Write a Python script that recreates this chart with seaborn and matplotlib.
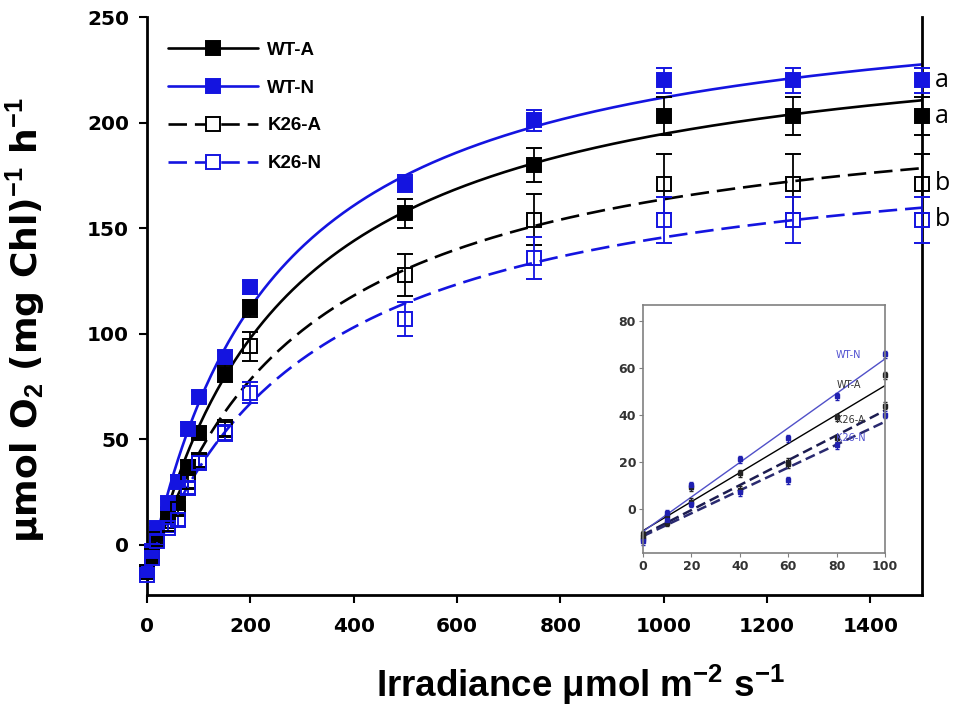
import numpy as np
import pandas as pd
import matplotlib
matplotlib.use("Agg")
import matplotlib.pyplot as plt
import seaborn as sns

sns.set_style("white")
plt.rcParams["mathtext.fontset"] = "custom"
plt.rcParams["mathtext.rm"] = "Liberation Sans:bold"
plt.rcParams["mathtext.it"] = "Liberation Sans:bold"
plt.rcParams["mathtext.bf"] = "Liberation Sans:bold"
plt.rcParams["mathtext.default"] = "rm"
plt.rcParams["text.color"] = "black"

# irradiance levels (umol m-2 s-1)
irradiance = [0, 10, 20, 40, 60, 80, 100, 150, 200, 500, 750, 1000, 1250, 1500]

wt_a = [-13, -5, 5, 14, 20, 37, 53, 81, 112, 157, 180, 203, 203, 203]
wt_n = [-13, -3, 8, 20, 30, 55, 70, 89, 122, 171, 201, 220, 220, 220]
k26_a = [-13, -5, 3, 10, 17, 30, 40, 55, 94, 128, 154, 171, 171, 171]
k26_n = [-14, -6, 2, 8, 12, 27, 39, 53, 72, 107, 136, 154, 154, 154]

wt_a_err = [2, 2, 2, 2, 3, 3, 3, 4, 4, 7, 8, 9, 9, 9]
wt_n_err = [2, 2, 2, 2, 3, 3, 3, 3, 3, 4, 5, 6, 6, 6]
k26_a_err = [2, 2, 2, 2, 3, 3, 3, 4, 7, 10, 12, 14, 14, 14]
k26_n_err = [2, 2, 2, 2, 3, 3, 3, 4, 5, 8, 10, 11, 11, 11]

labels = ["WT-A", "WT-N", "K26-A", "K26-N"]
letters = ["a", "a", "b", "b"]

# inset: low light range
inset_irr = [0, 10, 20, 40, 60, 80, 100]
inset_wt_a = [-11, -3, 9, 15, 20, 39, 57]
inset_wt_n = [-13, -2, 10, 21, 30, 48, 66]
inset_k26_a = [-12, -6, 3, 8, 19, 30, 44]
inset_k26_n = [-14, -5, 2, 7, 12, 27, 40]

blue = "#1414e0"


def fit_hyperbola(x, y):
    # P = Pmax * I / (K + I) + R, grid over K, linear lstsq for Pmax, R
    x = np.asarray(x, float)
    y = np.asarray(y, float)
    best = None
    for k in np.arange(20, 1500, 1.0):
        A = np.column_stack([x / (k + x), np.ones_like(x)])
        coef, res, _, _ = np.linalg.lstsq(A, y, rcond=None)
        r = np.sum((A @ coef - y) ** 2)
        if best is None or r < best[0]:
            best = (r, k, coef)
    return best[1], best[2]


fig = plt.figure(figsize=(9.56, 7.06), dpi=100)
ax = fig.add_axes([0.1538, 0.1572, 0.8106, 0.8187])

series = [(wt_a, wt_a_err, "black", "-", "black"),
          (wt_n, wt_n_err, blue, "-", blue),
          (k26_a, k26_a_err, "black", (0, (7, 3)), "none"),
          (k26_n, k26_n_err, blue, (0, (7, 3)), "none")]

xs = np.linspace(0, 1500, 400)
handles = []
for (vals, err, col, ls, face), lab, let in zip(series, labels, letters):
    k, (pmax, r0) = fit_hyperbola(irradiance, vals)
    df_fit = pd.DataFrame({"I": xs, "P": pmax * xs / (k + xs) + r0})
    sns.lineplot(data=df_fit, x="I", y="P", ax=ax, color=col, lw=1.9,
                 linestyle=ls, zorder=2)
    ax.errorbar(irradiance, vals, yerr=err, fmt="s", ms=10, mfc=face,
                mec=col, mew=1.4, ecolor=col, elinewidth=1.3, capsize=6,
                capthick=1.3, clip_on=False, zorder=3)
    ax.annotate(let, (1500, vals[-1]), xytext=(9, 0), textcoords="offset points",
                va="center", ha="left", fontsize=18, family="Open Sans",
                color="black", annotation_clip=False)
    h, = ax.plot([], [], color=col, lw=1.9, linestyle=ls, marker="s", ms=10,
                 mfc=face if face != "none" else "white", mec=col, mew=1.4)
    handles.append(h)

ax.set_xlim(0, 1500)
ax.set_ylim(-23.7, 250)
ax.set_xticks(range(0, 1401, 200))
ax.set_yticks(range(0, 251, 50))
for s in ["left", "bottom", "right"]:
    ax.spines[s].set_linewidth(2)
    ax.spines[s].set_color("black")
ax.spines["top"].set_visible(False)
ax.tick_params(axis="both", direction="out", length=6, width=1.5, colors="black",
               labelcolor="black", labelsize=14.5, pad=7, left=True, bottom=True)
ax.tick_params(axis="x", pad=10)
for t in ax.get_xticklabels() + ax.get_yticklabels():
    t.set_fontweight("bold")
ax.set_xlabel("Irradiance μmol m$^{-2}$ s$^{-1}$", fontsize=26.5, fontweight="bold",
              family="Liberation Sans", color="black")
ax.set_ylabel("μmol O$_2$ (mg Chl)$^{-1}$ h$^{-1}$", fontsize=26, fontweight="bold",
              family="DejaVu Sans", color="black")
ax.xaxis.set_label_coords(0.559, -0.118)
ax.yaxis.set_label_coords(-0.129, 0.476)

leg = ax.legend(handles, labels, loc="upper left", bbox_to_anchor=(0.01, 0.98),
                frameon=False, handlelength=4.8, labelspacing=1.1, handletextpad=0.5,
                borderpad=0.2, labelcolor="black",
                prop={"family": "Liberation Sans", "weight": "bold", "size": 13.5})

# inset
axi = fig.add_axes([0.6726, 0.2167, 0.2531, 0.3513])
inset_series = [(inset_wt_a, "black", "-", 1.0, "#222222"),
                (inset_wt_n, "#5050c8", "-", 1.0, "#2020b0"),
                (inset_k26_a, "#1c1c50", (0, (4, 2)), 1.8, "#222222"),
                (inset_k26_n, "#2a2a70", (0, (4, 2)), 1.8, "#2020b0")]
xi = np.array([0, 100])
for vals, col, ls, lw, mcol in inset_series:
    slope, icpt = np.polyfit(inset_irr, vals, 1)
    df_line = pd.DataFrame({"I": xi, "P": slope * xi + icpt})
    sns.lineplot(data=df_line, x="I", y="P", ax=axi, color=col, lw=lw, linestyle=ls)
    axi.errorbar(inset_irr, vals, yerr=1.5, fmt="s", ms=3.5, color=mcol,
                 elinewidth=0.8, capsize=1.5, clip_on=False)

axi.text(85, 65.5, "WT-N", fontsize=7, color="#5050d0", ha="center", va="center")
axi.text(85, 53, "WT-A", fontsize=7, color="#333333", ha="center", va="center")
axi.text(85.5, 38, "K26-A", fontsize=7, color="#333333", ha="center", va="center")
axi.text(86, 30, "K26-N", fontsize=7, color="#5050d0", ha="center", va="center")

axi.set_xlim(0, 100)
axi.set_ylim(-19, 87)
axi.set_xticks(range(0, 101, 20))
axi.set_yticks(range(0, 81, 20))
axi.set_xlabel("")
axi.set_ylabel("")
for s in axi.spines.values():
    s.set_color("#808080")
    s.set_linewidth(1.2)
axi.tick_params(axis="both", direction="out", length=3, width=0.8, colors="#808080",
                labelcolor="#333333", labelsize=9, pad=2, left=True, bottom=True)
for t in axi.get_xticklabels() + axi.get_yticklabels():
    t.set_fontweight("bold")

fig.savefig("out.png", dpi=100)
